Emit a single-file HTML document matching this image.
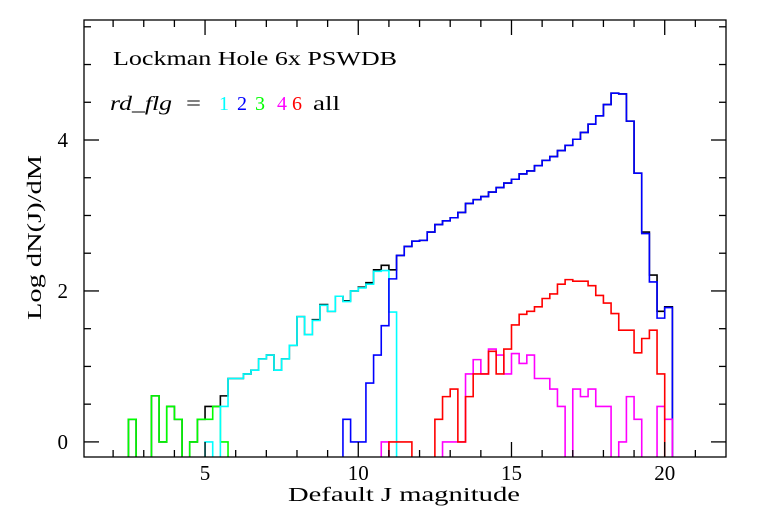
<!DOCTYPE html>
<html><head><meta charset="utf-8"><style>
html,body{margin:0;padding:0;background:#fff;}
svg{display:block;}
text{font-family:"Liberation Serif",serif;}
</style></head><body>
<svg id="chart" width="768" height="512" viewBox="0 0 768 512" xmlns="http://www.w3.org/2000/svg">
<rect x="0" y="0" width="768" height="512" fill="#fff"/>
<g id="marks"></g>
<g id="axes"></g>
<text x="113" y="65" font-size="20" textLength="284" lengthAdjust="spacingAndGlyphs" fill="#000">Lockman Hole 6x PSWDB</text>
<g font-size="20">
<text x="110" y="110" font-style="italic" textLength="62" lengthAdjust="spacingAndGlyphs">rd_flg</text>
<text x="186" y="110" textLength="15" lengthAdjust="spacingAndGlyphs">=</text>
<text x="219" y="110" fill="#00ffff">1</text>
<text x="237" y="110" fill="#0000ff">2</text>
<text x="255" y="110" fill="#00ff00">3</text>
<text x="277" y="110" fill="#ff00ff">4</text>
<text x="292" y="110" fill="#ff0000">6</text>
<text x="313" y="110" textLength="27" lengthAdjust="spacingAndGlyphs">all</text>
</g>
<text x="288" y="501" font-size="20" textLength="232" lengthAdjust="spacingAndGlyphs">Default J magnitude</text>
<text transform="translate(41,320) rotate(-90)" font-size="20" textLength="165" lengthAdjust="spacingAndGlyphs">Log dN(J)/dM</text>
</svg>
<script>
const BIN = 0.25;
const xTicks = [5, 10, 15, 20];
const yTicks = [0, 2, 4];
// each series: start magnitude (left edge of first bin) and log values per 0.25 bin (null = empty)
const allStart = 2.5;
const allVals = [0.30,null,null,0.61,0,0.47,0.30,null,0,0.30,0.47,0.47,0.61,0.84,0.84,0.90,0.95,1.10,1.15,0.95,1.10,1.28,1.66,1.42,1.62,1.82,1.73,1.93,1.87,2.00,2.05,2.11,2.28,2.34,2.28,2.47,2.59,2.66,2.67,2.78,2.88,2.93,2.97,3.04,3.16,3.21,3.25,3.31,3.37,3.43,3.48,3.55,3.59,3.66,3.73,3.78,3.86,3.93,4.01,4.10,4.21,4.32,4.47,4.62,4.61,4.25,3.56,2.78,2.21,1.73,1.79];
const cyanStart = 5.0;
const cyanVals = [0,null,0.47,0.84,0.84,0.90,0.95,1.10,1.15,0.95,1.10,1.28,1.66,1.42,1.61,1.81,1.73,1.93,1.86,2.00,2.04,2.09,2.26,2.27,1.72];
const blueStart = 9.5;
const blueVals = [0.30,0,0,0.78,1.15,1.54,2.16,2.47,2.59,2.66,2.67,2.78,2.88,2.93,2.97,3.04,3.16,3.21,3.25,3.31,3.37,3.43,3.48,3.55,3.59,3.66,3.73,3.78,3.86,3.93,4.01,4.10,4.21,4.32,4.47,4.62,4.61,4.25,3.56,2.76,2.12,1.64,1.78];
const greenStart = 2.5;
const greenVals = [0.30,null,null,0.61,0,0.47,0.30,null,0,0.30,0.30,0.47,0];
const magentaStart = 10.75;
const magentaVals = [0,null,null,null,null,null,null,null,0,0,0,0.90,1.09,0.90,1.23,1.15,0.90,1.17,1.04,1.15,0.84,0.84,0.70,0.47,null,0.70,0.60,0.70,0.47,0.47,null,0,0.60,0.30,null,null,0.47,0.30];
const redStart = 11.0;
const redVals = [0,0,0,null,null,null,0.30,0.60,0.70,0,0.60,0.90,0.90,1.20,0.90,1.23,1.55,1.69,1.73,1.79,1.90,1.96,2.09,2.15,2.13,2.13,2.07,1.94,1.84,1.70,1.48,1.48,1.18,1.37,1.48,0.90];

const X0=84,X1=726,Y0=20,Y1=457;
const XMIN=1.05,XMAX=22,YMIN=-0.2,YMAX=5.59;
function sx(v){return X0+(v-XMIN)/(XMAX-XMIN)*(X1-X0);}
function sy(v){return Y1-(v-YMIN)/(YMAX-YMIN)*(Y1-Y0);}
const NS="http://www.w3.org/2000/svg";
const marks=document.getElementById('marks');
const axes=document.getElementById('axes');

function drawSeries(start, vals, color, name){
  let d='';
  const base=sy(YMIN);
  let open=false;
  for(let i=0;i<vals.length;i++){
    const xl=sx(start+i*BIN), xr=sx(start+(i+1)*BIN);
    const v=vals[i];
    if(v===null){
      if(open){d+=`L${xl},${base}`;open=false;}
      continue;
    }
    const y=sy(v);
    if(!open){d+=`M${xl},${base}L${xl},${y}`;open=true;}
    else d+=`L${xl},${y}`;
    d+=`L${xr},${y}`;
    if(i===vals.length-1){d+=`L${xr},${base}`;}
  }
  const p=document.createElementNS(NS,'path');
  p.setAttribute('d',d);
  p.setAttribute('fill','none');
  p.setAttribute('stroke',color);
  p.setAttribute('stroke-width','1.6');
  
  
  marks.appendChild(p);
}
drawSeries(allStart,allVals,'#000','series-all');
drawSeries(greenStart,greenVals,'#00ff00','series-flag-3');
drawSeries(cyanStart,cyanVals,'#00ffff','series-flag-1');
drawSeries(blueStart,blueVals,'#0000ff','series-flag-2');
drawSeries(magentaStart,magentaVals,'#ff00ff','series-flag-4');
drawSeries(redStart,redVals,'#ff0000','series-flag-6');

function line(x1,y1,x2,y2,name){
  const l=document.createElementNS(NS,'line');
  l.setAttribute('x1',x1);l.setAttribute('y1',y1);l.setAttribute('x2',x2);l.setAttribute('y2',y2);
  l.setAttribute('stroke','#000');l.setAttribute('stroke-width','1.3');
  
  
  axes.appendChild(l);
}
const frame=document.createElementNS(NS,'rect');
frame.setAttribute('x',X0);frame.setAttribute('y',Y0);frame.setAttribute('width',X1-X0);frame.setAttribute('height',Y1-Y0);
frame.setAttribute('fill','none');frame.setAttribute('stroke','#000');frame.setAttribute('stroke-width','1.3');


axes.appendChild(frame);
for(let m=2;m<=21;m++){
  const x=sx(m), len=(m%5===0)?15:7;
  line(x,Y1,x,Y1-len,'x-tick');
  line(x,Y0,x,Y0+len,'x-tick-top');
}
for(let k=0;k<=11;k++){
  const v=k*0.5, y=sy(v), len=(v%2===0)?15:7;
  if(y<Y0) continue;
  line(X0,y,X0+len,y,'y-tick');
  line(X1,y,X1-len,y,'y-tick-right');
}
xTicks.forEach(v=>{
  const t=document.createElementNS(NS,'text');
  t.setAttribute('x',sx(v));t.setAttribute('y',480);t.setAttribute('font-size','21');t.setAttribute('text-anchor','middle');
  t.textContent=v;
  
  
  axes.appendChild(t);
});
yTicks.forEach(v=>{
  const t=document.createElementNS(NS,'text');
  t.setAttribute('x',68);t.setAttribute('y',sy(v)+7);t.setAttribute('font-size','21');t.setAttribute('text-anchor','end');
  t.textContent=v;
  
  
  axes.appendChild(t);
});
</script>
</body></html>
